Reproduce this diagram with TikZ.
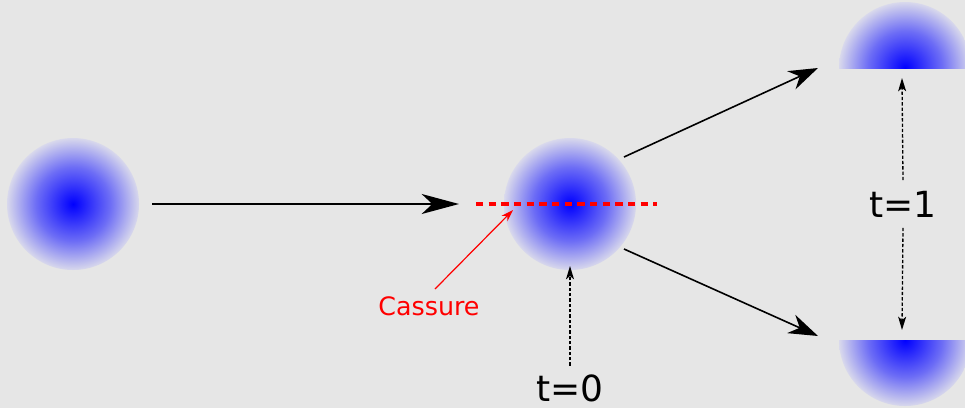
\documentclass[tikz,border=0pt]{standalone}
\usepackage{fontspec}
\setmainfont{DejaVu Sans}
\usetikzlibrary{arrows.meta}
\definecolor{bgc}{RGB}{230,230,230}
\definecolor{rimc}{RGB}{226,226,235}
\pgfdeclareradialshading{blobshade}{\pgfpoint{0bp}{0bp}}{color(0bp)=(blue); color(14bp)=(blue!52!rimc); color(26bp)=(rimc); color(50bp)=(rimc)}
\begin{document}
\begin{tikzpicture}[x=0.75pt,y=-0.75pt]
				\tikzset{
					blob/.style={shading=blobshade},
					move/.style={line width=1.5pt,-{Stealth[length=28pt,width=15pt,inset=8pt]}},
					split/.style={line width=1.2pt,-{Stealth[length=22pt,width=15pt,inset=7pt]}},
					time/.style={line width=1pt,dash pattern=on 2.5pt off 1.5pt,-{Stealth[length=10pt,width=6pt,inset=2.5pt]}},
					lbl/.style={font=\fontsize{27}{30}\selectfont,text=black}
				}
				\fill[bgc] (0,0) rectangle (965,408);
				\useasboundingbox (0,0) rectangle (965,408);
				\path
				(73,204) coordinate (P0)
				(570,204) coordinate (P1)
				(905,68) coordinate (Pt)
				(905,340) coordinate (Pb)
				(152,204) coordinate (Ms)
				(459,204) coordinate (Me)
				(476,204) coordinate (Cl)
				(657,204) coordinate (Cr)
				(624,157) coordinate (Ut)
				(818,68) coordinate (Ue)
				(624,249) coordinate (Dt)
				(818,336) coordinate (De);
				% the blobs
				\shade[blob] (P0) circle (66);
				\shade[blob] (P1) circle (66);
				\begin{scope}
					\clip (835,0) rectangle (965,68);
					\shade[blob] (Pt) circle (66);
				\end{scope}
				\begin{scope}
					\clip (835,340) rectangle (965,408);
					\shade[blob] (Pb) circle (66);
				\end{scope}
				% motion
				\draw[move] (Ms) -- (Me);
				\draw[split] (Ut) -- (Ue);
				\draw[split] (Dt) -- (De);
				\draw[red,line width=2.6pt,dash pattern=on 5.5pt off 4pt] (Cl) -- (Cr);
				\node[text=red,font=\fontsize{19}{22}\selectfont] (cas) at (429,306) {Cassure};
				\coordinate (cast) at (513,210);
				\draw[red,line width=0.9pt,-{Stealth[length=9pt,width=6pt]}] (435,289) -- (cast);
				% times
				\node[lbl] (t0) at (570,388) {t=0};
				\node[lbl] (t1) at (903,204) {t=1};
				\draw[time] (t0.north) ++(0,-4) -- (570,266);
				\draw[time] (t1.north) ++(0,-6) -- (902,78);
				\draw[time] (t1.south) ++(0,6) -- (902,330);
\end{tikzpicture}
\end{document}
